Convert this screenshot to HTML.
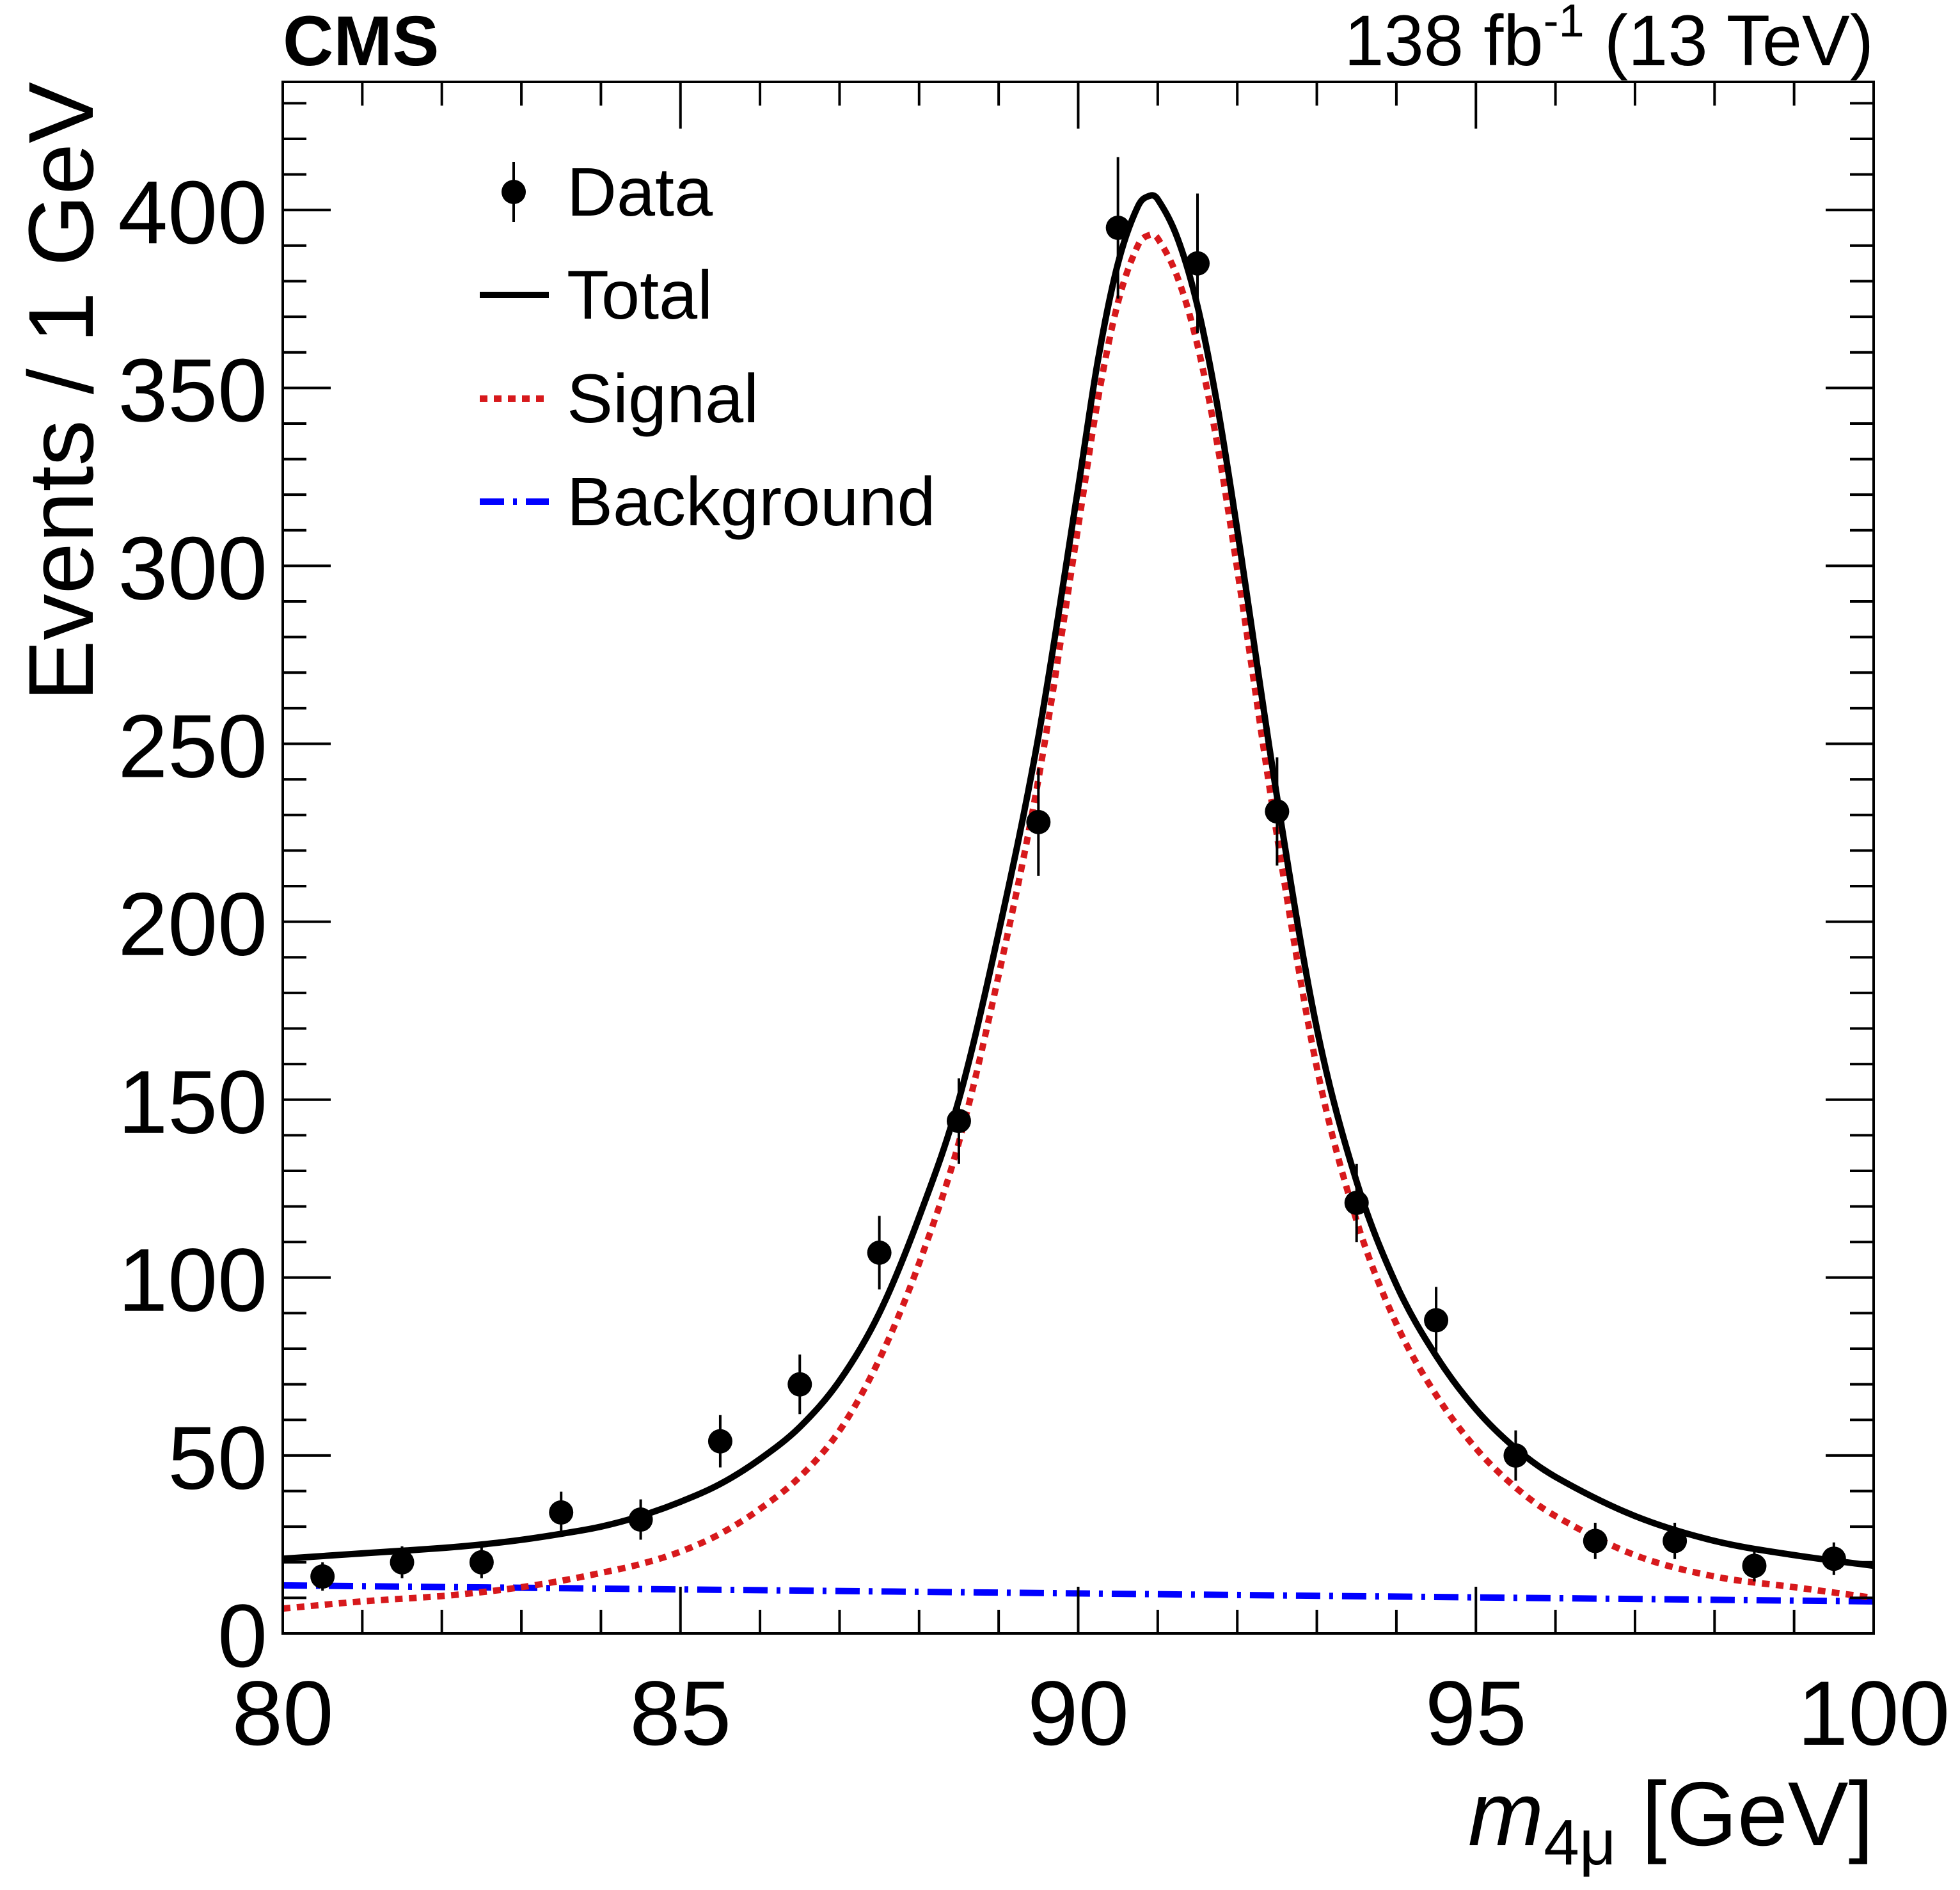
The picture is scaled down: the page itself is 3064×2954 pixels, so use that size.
<!DOCTYPE html>
<html><head><meta charset="utf-8">
<style>
html,body{margin:0;padding:0;background:#fff;}
svg{display:block;font-family:"Liberation Sans",sans-serif;}
</style></head>
<body>
<svg id="chart" width="3064" height="2954" viewBox="0 0 3064 2954" xmlns="http://www.w3.org/2000/svg">
<rect width="3064" height="2954" fill="#fff"/>
<g id="curves"></g>
<g id="points"></g>
<g id="axes"></g>
<text x="442" y="102" font-size="110" font-weight="bold">CMS</text>
<text x="2929" y="102" font-size="112" text-anchor="end">138 fb<tspan dy="-45" font-size="72">-1</tspan><tspan dy="45"> (13 TeV)</tspan></text>
<text transform="translate(145,128) rotate(-90)" font-size="144" text-anchor="end">Events / 1 GeV</text>
<text x="2929" y="2884" font-size="142" text-anchor="end"><tspan font-style="italic">m</tspan><tspan dy="30" font-size="100">4μ</tspan><tspan dy="-30"> [GeV]</tspan></text>
<g>
  <g>
    <line x1="803" y1="253" x2="803" y2="347" stroke="#000" stroke-width="4"/>
    <circle cx="803" cy="300" r="19" fill="#000"/>
    <text x="886" y="337" font-size="108">Data</text>
  </g>
  <g>
    <line x1="750" y1="461" x2="858" y2="461" stroke="#000" stroke-width="10"/>
    <text x="886" y="498" font-size="108">Total</text>
  </g>
  <g>
    <line x1="750" y1="623" x2="858" y2="623" stroke="#d7191c" stroke-width="10" stroke-dasharray="12,10"/>
    <text x="886" y="660" font-size="108">Signal</text>
  </g>
  <g>
    <line x1="750" y1="784" x2="858" y2="784" stroke="#0000ff" stroke-width="10" stroke-dasharray="38,14,6,14"/>
    <text x="886" y="821" font-size="108">Background</text>
  </g>
</g>
</svg>
<script>
const dataX = [80.5,81.5,82.5,83.5,84.5,85.5,86.5,87.5,88.5,89.5,90.5,91.5,92.5,93.5,94.5,95.5,96.5,97.5,98.5,99.5];
const dataY = [16,20,20,34,32,54,70,107,144,228,395,385,231,121,88,50,26,26,19,21];
const curveX = [80,81,82,82.5,83,83.5,84,84.5,85,85.5,86,86.5,87,87.5,88,88.5,89,89.5,90,90.25,90.5,90.75,90.9,91,91.25,91.5,91.75,92,92.5,93,93.5,94,94.5,95,95.5,96,97,98,99,100];
const totalY = [21,22.5,24,25,26.3,28,30,33,37,42,49,58,71,90,117,150,197,252,322,358,385,401,404,403,392,373,345,310,235,170,127,98,78,63,52,44,33,26,22,19];
const signalY = [7,9,10.5,11.6,13,14.8,17,19.5,23,28,35,44,57,77,104,138,185,240,311,347,374,390,393,392,381,362,334,299,224,159,116,87,67,52,41,33,22,16,13,10];
const bkgX = [80,100];
const bkgY = [13.5,9];
const xTicks = [80,85,90,95,100];
const yTicks = [0,50,100,150,200,250,300,350,400];

const NS = 'http://www.w3.org/2000/svg';
const L=442,R=2929,T=128,B=2553;
const xMin=80,xMax=100,yMin=0,yMax=436;
function sx(v){return L+(v-xMin)/(xMax-xMin)*(R-L);}
function sy(v){return B-(v-yMin)/(yMax-yMin)*(B-T);}
function mk(tag,attrs,parent){const e=document.createElementNS(NS,tag);for(const k in attrs)e.setAttribute(k,attrs[k]);parent.appendChild(e);return e;}

function smoothPath(xs,ys){
  const p=xs.map((x,i)=>[sx(x),sy(ys[i])]);
  const n=p.length;
  const m=p.map((q,i)=>{
    const a=p[Math.max(i-1,0)],b=p[Math.min(i+1,n-1)];
    return (b[1]-a[1])/(b[0]-a[0]);
  });
  let d='M'+p[0][0].toFixed(1)+','+p[0][1].toFixed(1);
  for(let i=0;i<n-1;i++){
    const dx=(p[i+1][0]-p[i][0])/3;
    d+=' C'+(p[i][0]+dx).toFixed(1)+','+(p[i][1]+m[i]*dx).toFixed(1)+' '+(p[i+1][0]-dx).toFixed(1)+','+(p[i+1][1]-m[i+1]*dx).toFixed(1)+' '+p[i+1][0].toFixed(1)+','+p[i+1][1].toFixed(1);
  }
  return d;
}
const curves=document.getElementById('curves');
let bg=mk('path',{d:smoothPath(bkgX,bkgY),fill:'none',stroke:'#0000ff','stroke-width':10,'stroke-dasharray':'38,14,6,14'},curves);


let sg=mk('path',{d:smoothPath(curveX,signalY),fill:'none',stroke:'#d7191c','stroke-width':10,'stroke-dasharray':'12,10'},curves);


let tt=mk('path',{d:smoothPath(curveX,totalY),fill:'none',stroke:'#000','stroke-width':10,'stroke-linejoin':'round'},curves);



const pts=document.getElementById('points');
dataX.forEach((x,i)=>{
  const g=mk('g',{},pts);
  
  
  const e=Math.sqrt(dataY[i]);
  mk('line',{x1:sx(x),x2:sx(x),y1:sy(dataY[i]+e),y2:sy(Math.max(dataY[i]-e,0)),stroke:'#000','stroke-width':4},g);
  mk('circle',{cx:sx(x),cy:sy(dataY[i]),r:19,fill:'#000'},g);
});

const ax=document.getElementById('axes');
let fr=mk('rect',{x:L,y:T,width:R-L,height:B-T,fill:'none',stroke:'#000','stroke-width':4},ax);


for(let v=80;v<=100;v++){
  const major=(v%5===0);const len=major?73:37;
  mk('line',{x1:sx(v),x2:sx(v),y1:B,y2:B-len,stroke:'#000','stroke-width':4},ax);
  mk('line',{x1:sx(v),x2:sx(v),y1:T,y2:T+len,stroke:'#000','stroke-width':4},ax);
}
for(let v=0;v<=430;v+=10){
  const major=(v%50===0);const len=major?75:37;
  mk('line',{x1:L,x2:L+len,y1:sy(v),y2:sy(v),stroke:'#000','stroke-width':4},ax);
  mk('line',{x1:R,x2:R-len,y1:sy(v),y2:sy(v),stroke:'#000','stroke-width':4},ax);
}
xTicks.forEach(v=>{
  const t=mk('text',{x:sx(v),y:2727,'font-size':143,'text-anchor':'middle'},ax);
  
  
  t.textContent=v;
});
yTicks.forEach(v=>{
  const t=mk('text',{x:L-24,y:sy(v)+52,'font-size':140,'text-anchor':'end'},ax);
  
  
  t.textContent=v;
});
</script>
</body></html>
